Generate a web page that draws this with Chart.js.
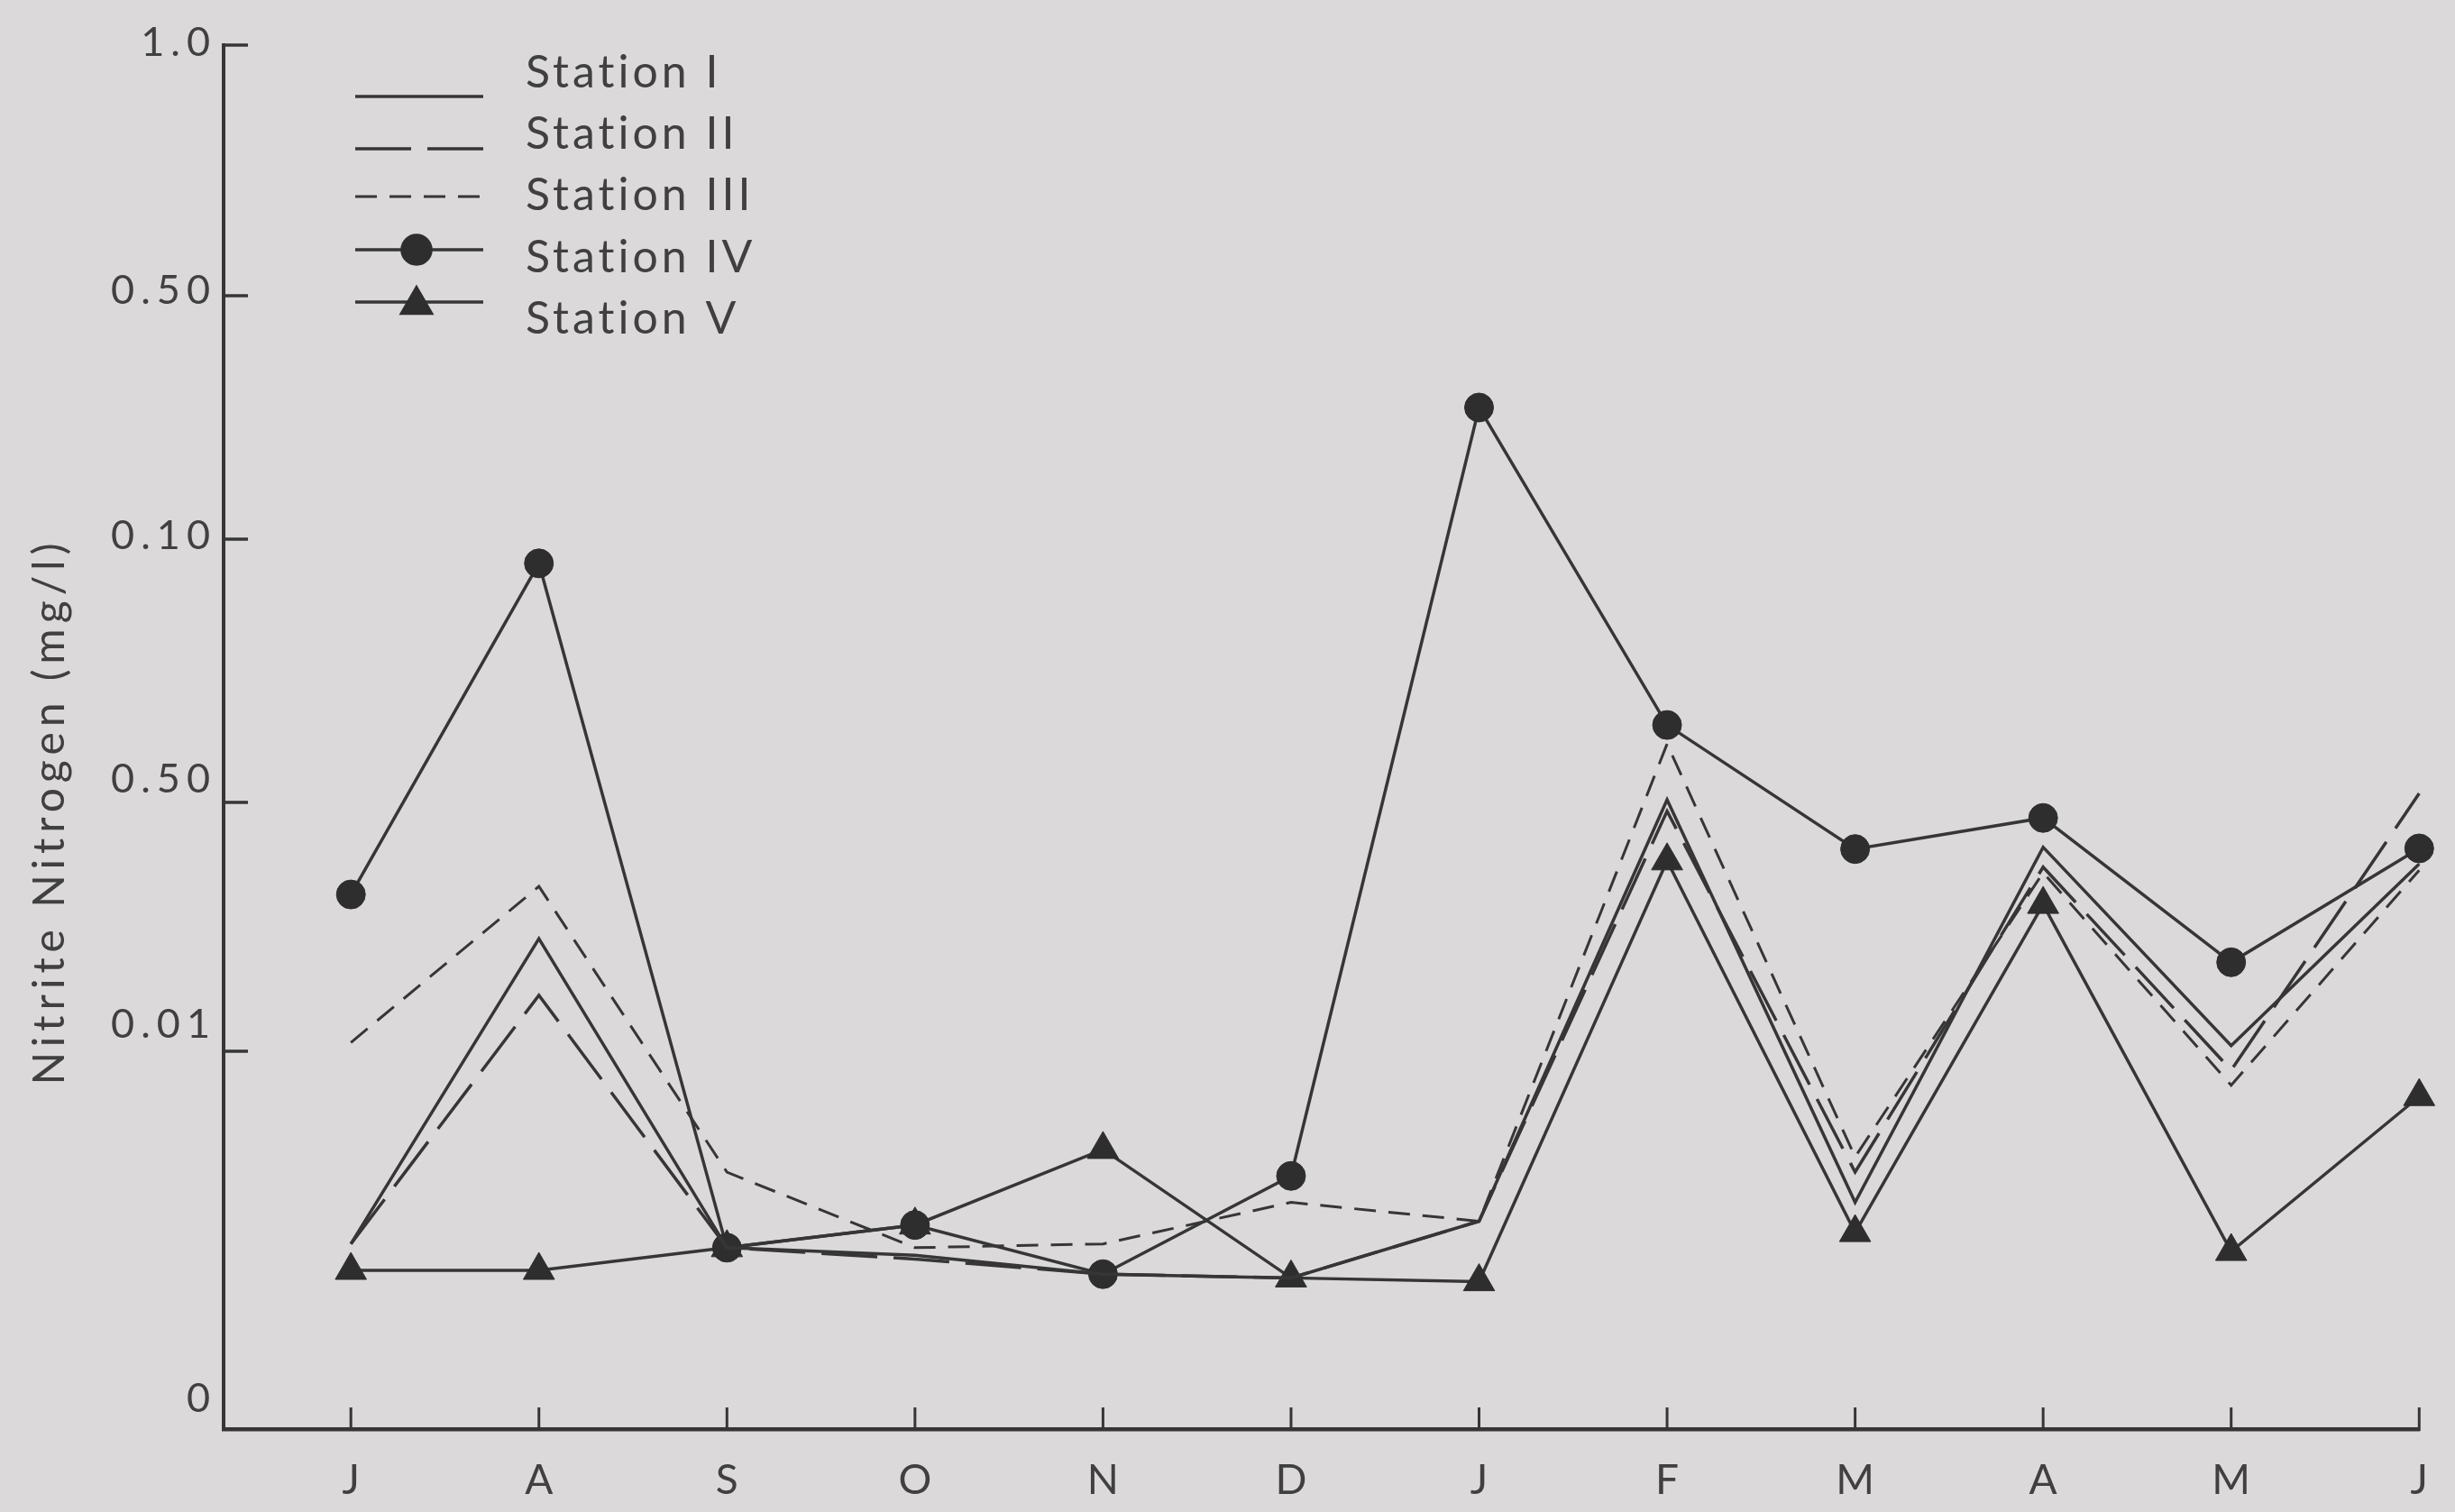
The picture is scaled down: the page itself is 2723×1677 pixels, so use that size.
<!DOCTYPE html>
<html>
<head>
<meta charset="utf-8">
<title>Nitrite Nitrogen by Station</title>
<script src="https://cdn.jsdelivr.net/npm/chart.js@4.4.1/dist/chart.umd.min.js"></script>
<style>
  html, body { margin: 0; padding: 0; background: #dcd9da; }
  #wrap { width: 2723px; height: 1677px; }
  canvas { display: block; }
</style>
</head>
<body>
<div id="wrap"><canvas id="chart" width="2723" height="1677"></canvas></div>
<script>
// Sampling months, July through June
const months = ['J', 'A', 'S', 'O', 'N', 'D', 'J', 'F', 'M', 'A', 'M', 'J'];

// Nitrite nitrogen (mg/l) per station, one value per month
const stationI   = [0.0049, 0.0281, 0.0048, 0.0046, 0.0041, 0.0040, 0.0055, 0.0505, 0.0060, 0.0428, 0.0109, 0.0401];
const stationII  = [0.0049, 0.0190, 0.0048, 0.0045, 0.0041, 0.0040, 0.0055, 0.0486, 0.0068, 0.0396, 0.0095, 0.0517];
const stationIII = [0.0114, 0.0365, 0.0068, 0.0048, 0.0049, 0.0060, 0.0055, 0.0611, 0.0072, 0.0387, 0.0091, 0.0391];
const stationIV  = [0.0352, 0.0954, 0.0048, 0.0054, 0.0041, 0.0067, 0.3163, 0.0647, 0.0425, 0.0475, 0.0243, 0.0426];
const stationV   = [0.0042, 0.0042, 0.0048, 0.0054, 0.0074, 0.0040, 0.0039, 0.0406, 0.0052, 0.0336, 0.0047, 0.0088];

// Y axis stops (mg/l) and the labels printed beside them
const yTickValues = [0, 0.01, 0.05, 0.10, 0.50, 1.0];
const yTickLabels = ['0', '0.01', '0.50', '0.10', '0.50', '1.0'];

const seriesNames = ['Station I', 'Station II', 'Station III', 'Station IV', 'Station V'];

// ---- layout / style constants ----
const INK = '#363636';
const TEXT = '#404040';
const FONT = 'Lato, "DejaVu Sans", sans-serif';
// where each stop sits along the axis (0 = bottom, 1 = top)
const yStopFractions = [0, 0.2730, 0.4528, 0.6430, 0.8189, 1];
// vertical nudge of each stop label relative to its stop
const yLabelShift = [-34, -29, -25, -4, -6, -3];

// Axis whose stops are spaced unevenly; values are interpolated between stops
class StopScale extends Chart.LinearScale {
  static id = 'stops';
  static defaults = {};
  determineDataLimits() {
    this.min = yTickValues[0];
    this.max = yTickValues[yTickValues.length - 1];
  }
  buildTicks() {
    return yTickValues.map(v => ({ value: v }));
  }
  toFraction(v) {
    const s = yTickValues, f = yStopFractions;
    if (v <= s[0]) return f[0];
    for (let i = 1; i < s.length; i++) {
      if (v <= s[i]) return f[i - 1] + (v - s[i - 1]) / (s[i] - s[i - 1]) * (f[i] - f[i - 1]);
    }
    return f[f.length - 1];
  }
  fromFraction(d) {
    const s = yTickValues, f = yStopFractions;
    if (d <= f[0]) return s[0];
    for (let i = 1; i < f.length; i++) {
      if (d <= f[i]) return s[i - 1] + (d - f[i - 1]) / (f[i] - f[i - 1]) * (s[i] - s[i - 1]);
    }
    return s[s.length - 1];
  }
  getPixelForValue(v) {
    return v === null ? NaN : this.getPixelForDecimal(this.toFraction(v));
  }
  getValueForPixel(p) {
    return this.fromFraction(this.getDecimalForPixel(p));
  }
}
Chart.register(StopScale);

const toPoints = arr => arr.map((v, i) => ({ x: i, y: v }));

const baseLine = {
  borderColor: INK,
  backgroundColor: INK,
  borderWidth: 3.5,
  tension: 0,
  pointRadius: 0,
  fill: false,
  clip: false
};

const datasets = [
  Object.assign({}, baseLine, { label: seriesNames[0], data: toPoints(stationI) }),
  Object.assign({}, baseLine, { label: seriesNames[1], data: toPoints(stationII), borderDash: [62, 18] }),
  Object.assign({}, baseLine, { label: seriesNames[2], data: toPoints(stationIII), borderDash: [24, 14], borderWidth: 3 }),
  Object.assign({}, baseLine, { label: seriesNames[3], data: toPoints(stationIV),
    pointStyle: 'circle', pointRadius: 16, pointBackgroundColor: '#2e2e2e', pointBorderColor: '#2e2e2e', pointBorderWidth: 1 }),
  Object.assign({}, baseLine, { label: seriesNames[4], data: toPoints(stationV),
    pointStyle: 'triangle', pointRadius: 20, pointBackgroundColor: '#2e2e2e', pointBorderColor: '#2e2e2e', pointBorderWidth: 1 })
];

// Inward tick marks, stop labels, rotated axis title and the key
const decorations = {
  id: 'decorations',
  afterDraw(chart) {
    const ctx = chart.ctx;
    const area = chart.chartArea;
    const xs = chart.scales.x;
    const ys = chart.scales.y;
    ctx.save();
    ctx.strokeStyle = INK;
    ctx.fillStyle = TEXT;
    ctx.lineCap = 'butt';

    // y stop marks pointing into the plot
    ctx.lineWidth = 3.5;
    yTickValues.forEach((v, i) => {
      if (i === 0) return;
      const y = ys.getPixelForValue(v);
      ctx.beginPath();
      ctx.moveTo(area.left - 2, y);
      ctx.lineTo(area.left + 27, y);
      ctx.stroke();
    });

    // month marks rising from the x axis
    ctx.lineWidth = 3;
    months.forEach((m, i) => {
      const x = xs.getPixelForValue(i);
      ctx.beginPath();
      ctx.moveTo(x, area.bottom + 2);
      ctx.lineTo(x, area.bottom - 24);
      ctx.stroke();
    });

    // stop labels
    ctx.font = '45px ' + FONT;
    ctx.letterSpacing = '7px';
    ctx.textAlign = 'right';
    ctx.textBaseline = 'middle';
    yTickValues.forEach((v, i) => {
      const y = ys.getPixelForValue(v) + yLabelShift[i];
      ctx.fillText(yTickLabels[i], 240, y);
    });

    // axis title
    ctx.save();
    ctx.translate(56, 900);
    ctx.rotate(-Math.PI / 2);
    ctx.font = '48px ' + FONT;
    ctx.letterSpacing = '6px';
    ctx.textAlign = 'center';
    ctx.textBaseline = 'middle';
    ctx.fillText('Nitrite Nitrogen (mg/l)', 0, 0);
    ctx.restore();

    // key
    const lineY = [107, 165, 218, 277, 335];
    const textY = [97, 165, 233, 302, 370];
    chart.data.datasets.forEach((ds, i) => {
      ctx.save();
      ctx.strokeStyle = INK;
      ctx.lineWidth = ds.borderWidth;
      ctx.setLineDash(ds.borderDash || []);
      ctx.beginPath();
      ctx.moveTo(394, lineY[i]);
      ctx.lineTo(536, lineY[i]);
      ctx.stroke();
      ctx.setLineDash([]);
      if (ds.pointRadius > 0) {
        ctx.fillStyle = ds.pointBackgroundColor;
        ctx.strokeStyle = ds.pointBorderColor;
        Chart.helpers.drawPoint(ctx, {
          pointStyle: ds.pointStyle,
          radius: ds.pointStyle === 'triangle' ? 19 : 16,
          borderWidth: 1,
          rotation: 0
        }, 462, lineY[i] + (ds.pointStyle === 'triangle' ? 3 : 0));
      }
      ctx.restore();
      ctx.fillStyle = TEXT;
      ctx.font = '50px ' + FONT;
      ctx.letterSpacing = '4px';
      ctx.textAlign = 'left';
      ctx.textBaseline = 'alphabetic';
      ctx.fillText(ds.label, 583, textY[i]);
    });
    ctx.restore();
  }
};

new Chart(document.getElementById('chart').getContext('2d'), {
  type: 'line',
  data: { datasets },
  options: {
    responsive: false,
    animation: false,
    devicePixelRatio: 1,
    layout: { padding: { top: 50, right: 26, left: 0, bottom: 0 } },
    plugins: {
      legend: { display: false },
      tooltip: { enabled: false },
      title: { display: false }
    },
    scales: {
      x: {
        type: 'linear',
        min: -0.677,
        max: 11,
        afterBuildTicks: s => { s.ticks = months.map((m, i) => ({ value: i })); },
        afterFit: s => { s.height = 92; },
        grid: { display: false, drawTicks: false },
        border: { display: true, width: 4.5, color: INK },
        ticks: {
          callback: v => months[v],
          autoSkip: false,
          maxRotation: 0,
          padding: 30,
          color: TEXT,
          font: { family: FONT, size: 46 }
        }
      },
      y: {
        type: 'stops',
        afterFit: s => { s.width = 248; },
        grid: { display: false, drawTicks: false },
        border: { display: true, width: 4, color: INK },
        ticks: { display: false }
      }
    }
  },
  plugins: [decorations]
});
</script>
</body>
</html>
